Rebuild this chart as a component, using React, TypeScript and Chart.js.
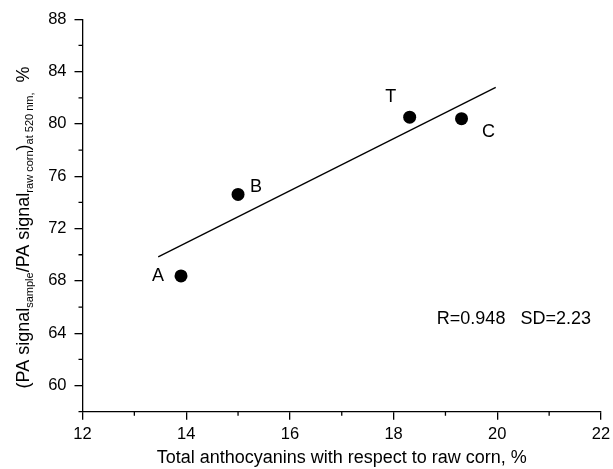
import { useEffect, useRef } from 'react';
import { Chart, registerables } from 'chart.js';

Chart.register(...registerables);

const FONT = '"Liberation Sans", Arial, Helvetica, sans-serif';

// Data
const sampleNames = ['A', 'B', 'T', 'C'];
const anthocyaninContent = [13.9, 15.0, 18.31, 19.31];
const paSignalRatio = [68.38, 74.61, 80.52, 80.4];

// Linear fit endpoints
const fitX = [13.46, 19.97];
const fitY = [69.84, 82.8];

// Axis ticks
const xMajorTicks = [12, 14, 16, 18, 20, 22];
const xMinorTicks = [13, 15, 17, 19, 21];
const yMajorTicks = [60, 64, 68, 72, 76, 80, 84, 88];
const yMinorTicks = [58, 62, 66, 70, 74, 78, 82, 86];

const xTitle = 'Total anthocyanins with respect to raw corn, %';
const statsText = 'R=0.948   SD=2.23';
const statsPos = { x: 20.32, y: 65.12 };

// label offsets (pixels) relative to points
const labelOffsets = [
  [-23, 0],
  [18, -7],
  [-19, -20],
  [27, 13],
];

export default function App() {
  const ref = useRef<HTMLCanvasElement>(null);

  useEffect(() => {
    const canvas = ref.current!;
    const annot = {
      id: 'annot',
      afterDraw(chart: any) {
        const ctx = chart.ctx as CanvasRenderingContext2D;
        const xs = chart.scales.x;
        const ys = chart.scales.y;
        const area = chart.chartArea;
        ctx.save();
        // minor ticks
        ctx.strokeStyle = '#000';
        ctx.lineWidth = 1.3;
        ctx.beginPath();
        xMinorTicks.forEach((v) => {
          const px = xs.getPixelForValue(v);
          ctx.moveTo(px, area.bottom);
          ctx.lineTo(px, area.bottom + 4);
        });
        yMinorTicks.forEach((v) => {
          const py = ys.getPixelForValue(v);
          ctx.moveTo(area.left, py);
          ctx.lineTo(area.left - 4, py);
        });
        ctx.stroke();

        ctx.fillStyle = '#000';
        // point labels
        ctx.font = `18px ${FONT}`;
        ctx.textAlign = 'center';
        ctx.textBaseline = 'middle';
        sampleNames.forEach((n, i) => {
          const px = xs.getPixelForValue(anthocyaninContent[i]) + labelOffsets[i][0];
          const py = ys.getPixelForValue(paSignalRatio[i]) + labelOffsets[i][1];
          ctx.fillText(n, px, py);
        });
        // stats
        ctx.fillText(statsText, xs.getPixelForValue(statsPos.x), ys.getPixelForValue(statsPos.y));

        // x title
        ctx.font = `18px ${FONT}`;
        ctx.fillText(xTitle, (area.left + area.right) / 2, 458);

        // y title with subscripts
        const parts: [string, boolean][] = [
          ['(PA signal', false],
          ['sample', true],
          ['/PA signal', false],
          ['raw corn', true],
          [')', false],
          ['at 520 nm,', true],
          ['  %', false],
        ];
        const mainFont = `18px ${FONT}`;
        const subFont = `11px ${FONT}`;
        let total = 0;
        parts.forEach(([t, sub]) => {
          ctx.font = sub ? subFont : mainFont;
          total += ctx.measureText(t).width;
        });
        ctx.translate(29, 227.5);
        ctx.rotate(-Math.PI / 2);
        ctx.textAlign = 'left';
        ctx.textBaseline = 'alphabetic';
        let cx = -total / 2;
        parts.forEach(([t, sub]) => {
          ctx.font = sub ? subFont : mainFont;
          ctx.fillText(t, cx, sub ? 4 : 0);
          cx += ctx.measureText(t).width;
        });
        ctx.restore();
      },
    };

    const chart = new Chart(canvas, {
      type: 'scatter',
      data: {
        datasets: [
          {
            type: 'line',
            data: fitX.map((x, i) => ({ x, y: fitY[i] })),
            borderColor: '#000',
            borderWidth: 1.3,
            pointRadius: 0,
            fill: false,
          } as any,
          {
            type: 'scatter',
            data: anthocyaninContent.map((x, i) => ({ x, y: paSignalRatio[i] })),
            backgroundColor: '#000',
            borderColor: '#000',
            borderWidth: 0,
            pointRadius: 6.5,
          },
        ],
      },
      options: {
        responsive: false,
        animation: false,
        layout: { padding: { top: 19.3, right: 12, bottom: 0, left: 0 } },
        plugins: { legend: { display: false }, tooltip: { enabled: false } },
        scales: {
          x: {
            type: 'linear',
            min: 12,
            max: 22,
            afterBuildTicks: (s: any) => {
              s.ticks = xMajorTicks.map((v) => ({ value: v }));
            },
            afterFit: (s: any) => {
              s.height = 57.3;
              s.paddingLeft = 0;
              s.paddingRight = 0;
            },
            grid: {
              drawOnChartArea: false,
              drawTicks: true,
              tickLength: 8,
              color: '#000',
              lineWidth: 1.3,
            },
            border: { display: true, color: '#000', width: 1.3 },
            ticks: {
              color: '#000',
              font: { family: FONT, size: 16.5 },
              padding: 5,
              maxRotation: 0,
            },
          },
          y: {
            type: 'linear',
            min: 58,
            max: 88,
            afterBuildTicks: (s: any) => {
              s.ticks = yMajorTicks.map((v) => ({ value: v }));
            },
            afterFit: (s: any) => {
              s.width = 82.5;
              s.paddingTop = 0;
              s.paddingBottom = 0;
            },
            grid: {
              drawOnChartArea: false,
              drawTicks: true,
              tickLength: 8,
              color: '#000',
              lineWidth: 1.3,
            },
            border: { display: true, color: '#000', width: 1.3 },
            ticks: {
              color: '#000',
              font: { family: FONT, size: 16.5 },
              padding: 8,
            },
          },
        },
      },
      plugins: [annot],
    });
    return () => chart.destroy();
  }, []);

  return (
    <div style={{ position: 'absolute', left: 0, top: 0, width: 613, height: 469, background: '#fff' }}>
      <canvas ref={ref} width={613} height={469} style={{ display: 'block' }} />
    </div>
  );
}
